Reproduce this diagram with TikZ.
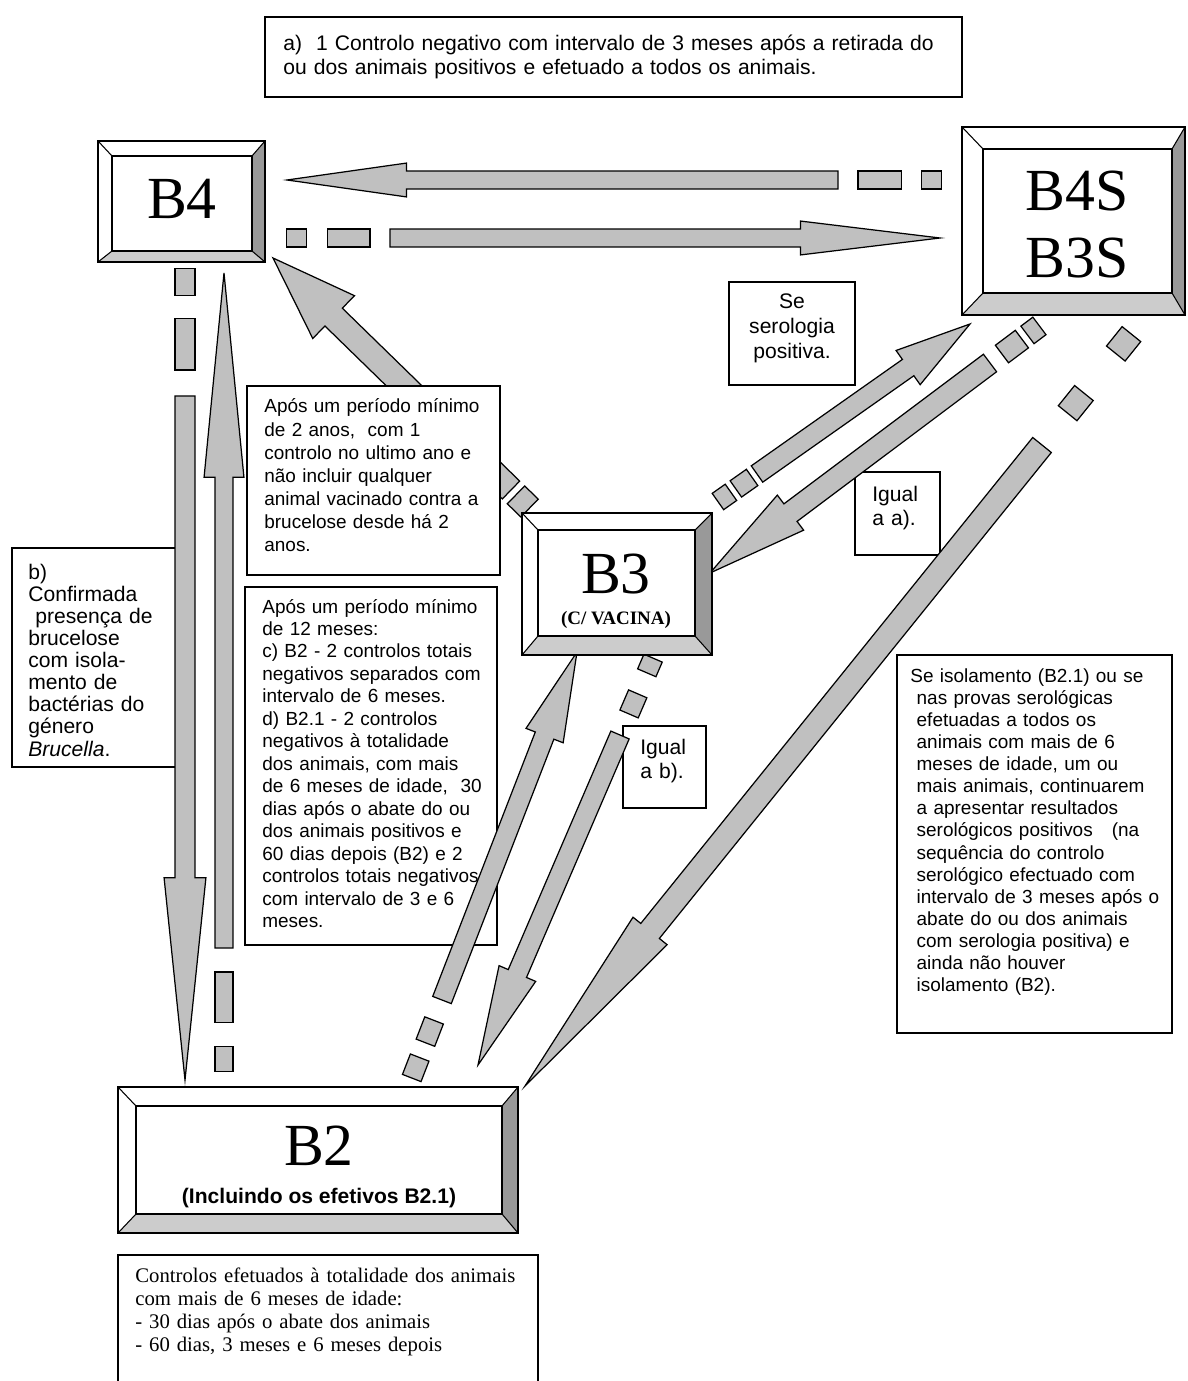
\documentclass[tikz,border=0pt]{standalone}
\usepackage{fontspec}
\setmainfont{Liberation Serif}
\setsansfont{Liberation Sans}
\usetikzlibrary{calc}

\definecolor{arrowgray}{HTML}{C0C0C0}
\definecolor{bevelright}{HTML}{999999}
\definecolor{bevelbottom}{HTML}{CCCCCC}

\tikzset{
  blockarrow/.style={fill=arrowgray, draw=black, line width=0.7pt, line join=miter},
  boxline/.style={draw=black, line width=1pt},
  notebox/.style={draw=black, fill=white, line width=0.8pt},
  notetext/.style={anchor=base west, inner sep=0pt, align=left, text width=5cm,
    font=\sffamily\fontsize{10.8}{12.8}\selectfont},
  biglabel/.style={anchor=base, inner sep=0pt, font=\fontsize{34}{38}\selectfont},
}

% framed box with bevel: outer x1 y1 x2 y2, inner x1 y1 x2 y2
\newcommand{\bevelbox}[8]{
  \fill[white] (#1,#2) rectangle (#3,#4);
  \fill[bevelright] (#3,#2) -- (#3,#4) -- (#7,#8) -- (#7,#6) -- cycle;
  \fill[bevelbottom] (#1,#4) -- (#3,#4) -- (#7,#8) -- (#5,#8) -- cycle;
  \draw[boxline] (#1,#2) rectangle (#3,#4);
  \draw[boxline] (#5,#6) rectangle (#7,#8);
  \draw[line width=0.6pt] (#1,#2) -- (#5,#6) (#3,#2) -- (#7,#6) (#1,#4) -- (#5,#8) (#3,#4) -- (#7,#8);
}

% block arrow: tail, tip, shaft half width, head half width, head length (px), broken tail pieces
\newcommand{\brokenarrow}[6]{
  \coordinate (hb) at ($(#2)!#5*0.5669pt!(#1)$);
  \filldraw[blockarrow] ($(#1)!#3*0.5669pt!90:(#2)$) -- ($(hb)!#3*0.5669pt!-90:(#1)$)
    -- ($(hb)!#4*0.5669pt!-90:(#1)$) -- (#2) -- ($(hb)!#4*0.5669pt!90:(#1)$)
    -- ($(hb)!#3*0.5669pt!90:(#1)$) -- ($(#1)!#3*0.5669pt!-90:(#2)$) -- cycle;
  \foreach \da/\db in {#6} {
    \coordinate (da) at ($(#1)!-\da*0.5669pt!(#2)$);
    \coordinate (db) at ($(#1)!-\db*0.5669pt!(#2)$);
    \filldraw[blockarrow] ($(da)!#3*0.5669pt!90:(db)$) -- ($(db)!#3*0.5669pt!-90:(da)$)
      -- ($(db)!#3*0.5669pt!90:(da)$) -- ($(da)!#3*0.5669pt!-90:(db)$) -- cycle;
  }
}

\begin{document}
\begin{tikzpicture}[x=0.02cm, y=-0.02cm]
  \useasboundingbox (0,0) rectangle (1187,1381);

  % notes under the arrows
  \draw[notebox] (265,17) rectangle (962,97);
  \node[notetext, text width=13.6cm, font=\sffamily\fontsize{12}{13.6}\selectfont] (notea) at (283,51)
    {a)\ \ 1 Controlo negativo com intervalo de 3 meses após a retirada do\\ou dos animais positivos e efetuado a todos os animais.};

  \draw[notebox] (12,548) rectangle (180,767);
  \node[notetext, font=\sffamily\fontsize{12}{12.6}\selectfont] (noteb) at (28,579)
    {b)\\Confirmada\\\ presença de\\brucelose\\com isola-\\mento de\\bactérias do\\género\\\textit{Brucella}.};

  \draw[notebox] (245,587) rectangle (497,945);
  \node[notetext] (notecd) at (262,613)
    {Após um período mínimo\\de 12 meses:\\c) B2 - 2 controlos totais\\negativos separados com\\intervalo de 6 meses.\\d) B2.1 - 2 controlos\\negativos à totalidade\\dos animais, com mais\\de 6 meses de idade,\ \ 30\\dias após o abate do ou\\dos animais positivos e\\60 dias depois (B2) e 2\\controlos totais negativos\\com intervalo de 3 e 6\\meses.};

  \draw[notebox] (729,282) rectangle (855,385);
  \node[notetext, anchor=base, align=center, text width=2.4cm, font=\sffamily\fontsize{12}{14.2}\selectfont] (noteser) at (792,309)
    {Se\\serologia\\positiva.};

  \draw[notebox] (855,472) rectangle (940,555);
  \node[notetext, font=\sffamily\fontsize{12}{14.2}\selectfont] (noteiga) at (872,501) {Igual\\a a).};

  \draw[notebox] (623,726) rectangle (706,808);
  \node[notetext, font=\sffamily\fontsize{12}{14.2}\selectfont] (noteigb) at (640,754) {Igual\\a b).};

  \draw[notebox] (897,655) rectangle (1172,1033);
  \node[notetext, font=\sffamily\fontsize{10.8}{12.6}\selectfont] (noteiso) at (910,682)
    {Se isolamento (B2.1) ou se\\\ nas provas serológicas\\\ efetuadas a todos os\\\ animais com mais de 6\\\ meses de idade, um ou\\\ mais animais, continuarem\\\ a apresentar resultados\\\ serológicos positivos\ \ \ (na\\\ sequência do controlo\\\ serológico efectuado com\\\ intervalo de 3 meses após o\\\ abate do ou dos animais\\\ com serologia positiva) e\\\ ainda não houver\\\ isolamento (B2).};

  \draw[line width=0.8pt] (118,1390) -- (118,1255) -- (538,1255) -- (538,1390);
  \node[notetext, font=\rmfamily\fontsize{11.8}{13.2}\selectfont, text width=8cm] (notectrl) at (135,1282)
    {Controlos efetuados à totalidade dos animais\\com mais de 6 meses de idade:\\- 30 dias após o abate dos animais\\- 60 dias, 3 meses e 6 meses depois};

  % arrow ends
  \coordinate (t1) at (838,180);  \coordinate (h1) at (287,180);
  \coordinate (t2) at (390,238);  \coordinate (h2) at (940,238);
  \coordinate (t3) at (511,490);  \coordinate (h3) at (273,258);
  \coordinate (t4) at (757,474);  \coordinate (h4) at (970,324);
  \coordinate (t5) at (990,363);  \coordinate (h5) at (710,573);
  \coordinate (t6) at (1042,445); \coordinate (h6) at (525,1086);
  \coordinate (t7) at (442,1000); \coordinate (h7) at (577,652);
  \coordinate (t8) at (620,735);  \coordinate (h8) at (478,1065);
  \coordinate (t9) at (185,396);  \coordinate (h9) at (185,1080);
  \coordinate (t10) at (224,948); \coordinate (h10) at (224,273);

  \brokenarrow{t1}{h1}{9}{17}{120}{20/64,84/104}
  \brokenarrow{t2}{h2}{9}{17}{140}{20/63,84/104}
  \brokenarrow{t3}{h3}{12.5}{30}{85}{7/26}
  \brokenarrow{t4}{h4}{10}{21}{76}{6/26,32/48}
  \brokenarrow{t5}{h5}{11}{22}{101}{15/40,47/62}
  \brokenarrow{t6}{h6}{12}{22}{200}{41/67,118/143}
  \brokenarrow{t7}{h7}{10}{20}{90}{22/46,62/84}
  \brokenarrow{t8}{h8}{10}{20}{100}{23/45,68/84}
  \brokenarrow{t9}{h9}{10}{21}{203}{26/78,101/128}
  \brokenarrow{t10}{h10}{9}{20}{205}{24/75,99/124}

  % note over the arrow from B3
  \draw[notebox] (247,386) rectangle (500,575);
  \node[notetext, font=\sffamily\fontsize{10.8}{13.1}\selectfont] (notemin) at (264,413)
    {Após um período mínimo\\de 2 anos,\ \ com 1\\controlo no ultimo ano e\\não incluir qualquer\\animal vacinado contra a\\brucelose desde há 2\\anos.};

  % herd status boxes
  \bevelbox{98}{141}{265}{262}{112}{156}{252}{251}
  \node[biglabel] (B4) at (182,219) {B4};
  \bevelbox{962}{127}{1185}{315}{983}{149}{1172}{293}
  \node[biglabel] (B4S) at (1077,211) {B4S};
  \node[biglabel] (B3S) at (1077,278) {B3S};
  \bevelbox{522}{513}{712}{655}{538}{530}{695}{636}
  \node[biglabel] (B3) at (616,593) {B3};
  \node[anchor=base, inner sep=0pt, font=\bfseries\fontsize{10.8}{12}\selectfont] (B3sub) at (616,624) {(C/ VACINA)};
  \bevelbox{118}{1087}{518}{1233}{136}{1106}{502}{1214}
  \node[biglabel] (B2) at (319,1165) {B2};
  \node[anchor=base, inner sep=0pt, font=\sffamily\bfseries\fontsize{12}{14}\selectfont] (B2sub) at (319,1203) {(Incluindo os efetivos B2.1)};
\end{tikzpicture}
\end{document}
